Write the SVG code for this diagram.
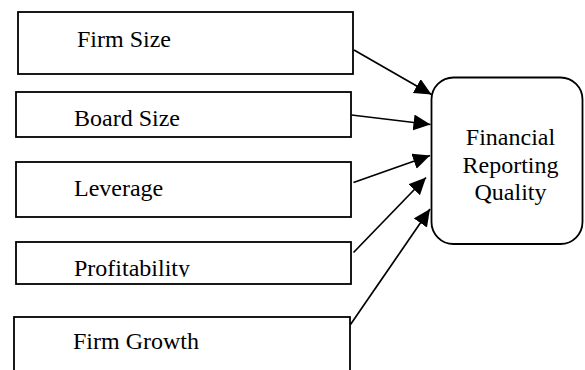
<svg xmlns="http://www.w3.org/2000/svg" width="585" height="370" viewBox="0 0 585 370">
<style>
.box{fill:#fff;stroke:#000;stroke-width:1.8}
.t{font-family:"Liberation Serif","Times New Roman",serif;font-size:24px;fill:#000}
.c{fill:none;stroke:#000;stroke-width:1.7}
</style>
<defs>
<marker id="ah" markerUnits="userSpaceOnUse" markerWidth="18" markerHeight="17" refX="17" refY="8" orient="auto">
<path d="M0,0 L17,8 L0,16 Z" fill="#000"/>
</marker>
<clipPath id="clipP"><rect x="16" y="242" width="335" height="35"/></clipPath>
</defs>
<rect width="585" height="370" fill="#fff"/>
<g id="firm-size">
<rect class="box" x="18" y="12" width="335" height="62"/>
<text class="t" x="77" y="46.5">Firm Size</text>
</g>
<g id="board-size">
<rect class="box" x="16" y="92" width="335" height="45"/>
<text class="t" x="74" y="125.7">Board Size</text>
</g>
<g id="leverage">
<rect class="box" x="16" y="162" width="335" height="55"/>
<text class="t" x="74" y="196">Leverage</text>
</g>
<g id="profitability">
<rect class="box" x="16" y="242" width="335" height="42"/>
<text class="t" x="74" y="275.7" clip-path="url(#clipP)">Profitability</text>
</g>
<g id="firm-growth">
<rect class="box" x="14" y="317" width="336" height="60"/>
<text class="t" x="73" y="349.3">Firm Growth</text>
</g>
<g id="frq">
<rect class="box" x="431.5" y="77.5" width="151" height="166.5" rx="22" ry="22"/>
<text class="t" text-anchor="middle" x="510.5" y="145">Financial</text>
<text class="t" text-anchor="middle" x="510.5" y="173">Reporting</text>
<text class="t" text-anchor="middle" x="510.5" y="200">Quality</text>
</g>
<g id="connectors">
<line class="c" x1="354" y1="50" x2="431.5" y2="94.5" marker-end="url(#ah)"/>
<line class="c" x1="351.5" y1="115" x2="430.5" y2="124.5" marker-end="url(#ah)"/>
<line class="c" x1="353.5" y1="182.5" x2="430" y2="155.5" marker-end="url(#ah)"/>
<line class="c" x1="353.5" y1="252.5" x2="426" y2="177.5" marker-end="url(#ah)"/>
<line class="c" x1="350.5" y1="324.5" x2="430" y2="209" marker-end="url(#ah)"/>
</g>
</svg>
